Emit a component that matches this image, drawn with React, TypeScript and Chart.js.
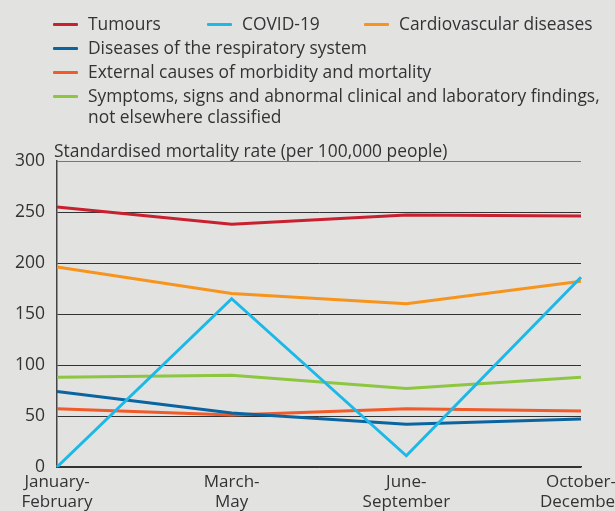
import React, { useEffect, useRef } from "react";
import { Chart, registerables } from "chart.js";

Chart.register(...registerables);

const categories: string[][] = [
  ["January-", "February"],
  ["March-", "May"],
  ["June-", "September"],
  ["October-", "December"],
];
const seriesNames = [
  "Tumours",
  "COVID-19",
  "Cardiovascular diseases",
  "Diseases of the respiratory system",
  "External causes of morbidity and mortality",
  "Symptoms, signs and abnormal clinical and laboratory findings,\nnot elsewhere classified",
];
const tumours = [255, 238, 247, 246];
const covid = [0, 165, 11, 186];
const cardio = [196, 170, 160, 182];
const respiratory = [74, 53, 42, 47];
const external = [57, 51, 57, 55];
const symptoms = [88, 90, 77, 88];
const colors = ["#c8202f", "#1cb9e8", "#f7941d", "#0a64a0", "#f15a29", "#8dc63f"];
const yTicks = [0, 50, 100, 150, 200, 250, 300];
const yTitle = "Standardised mortality rate (per 100,000 people)";

const FONT = "'Open Sans', Lato, sans-serif";
const TEXT = "#333333";

// legend layout: [left x of swatch, center y]
const legendPos: [number, number][] = [
  [53, 24],
  [207, 24],
  [364, 24],
  [53, 48],
  [53, 72],
  [53, 96],
];

export default function App() {
  const ref = useRef<HTMLCanvasElement | null>(null);

  useEffect(() => {
    document.body.style.margin = "0";
    if (!ref.current) return;
    const data = [tumours, covid, cardio, respiratory, external, symptoms];
    const chart = new Chart(ref.current, {
      type: "line",
      data: {
        labels: categories,
        datasets: data.map((d, i) => ({
          label: seriesNames[i],
          data: d,
          borderColor: colors[i],
          backgroundColor: colors[i],
          borderWidth: 3,
          pointRadius: 0,
          tension: 0,
          fill: false,
        })),
      },
      options: {
        animation: false,
        responsive: false,
        maintainAspectRatio: false,
        layout: { padding: { top: 161, left: 0, right: 34, bottom: 0 } },
        plugins: {
          legend: { display: false },
          tooltip: { enabled: false },
        },
        scales: {
          x: {
            offset: false,
            grid: { display: false, drawTicks: false },
            border: { display: true, color: "#333", width: 1.5 },
            ticks: {
              autoSkip: false,
              maxRotation: 0,
              minRotation: 0,
              padding: 5,
              color: TEXT,
              font: { family: FONT, size: 17, lineHeight: 1.2 },
            },
            afterFit: (s: any) => {
              s.height = 44;
              s.paddingLeft = 0;
              s.paddingRight = 0;
            },
          },
          y: {
            min: 0,
            max: 300,
            afterBuildTicks: (s: any) => {
              s.ticks = yTicks.map((v) => ({ value: v }));
            },
            grid: {
              color: (ctx: any) => (ctx.tick && ctx.tick.value === 300 ? "#777" : "#333"),
              lineWidth: 1,
              drawTicks: false,
            },
            border: { display: true, color: "#444", width: 1.5 },
            ticks: {
              padding: 12,
              color: TEXT,
              font: { family: FONT, size: 17.5 },
            },
            afterFit: (s: any) => {
              s.width = 57;
            },
          },
        },
      },
    });
    return () => chart.destroy();
  }, []);

  return (
    <div
      style={{
        position: "relative",
        width: 615,
        height: 511,
        background: "#e2e2e1",
        overflow: "hidden",
        fontFamily: FONT,
        color: TEXT,
      }}
    >
      <canvas ref={ref} width={615} height={511} style={{ position: "absolute", left: 0, top: 0 }} />
      {seriesNames.map((name, i) => {
        const [x, y] = legendPos[i];
        const lines = name.split("\n");
        return (
          <div key={i} style={{ position: "absolute", left: x, top: y - 11, display: "flex" }}>
            <div
              style={{
                width: 25,
                height: 3,
                background: colors[i],
                marginTop: 10,
                marginRight: 10,
                borderRadius: 1,
              }}
            />
            <div style={{ fontSize: 17.4, lineHeight: "21px", whiteSpace: "nowrap" }}>
              {lines.map((l, j) => (
                <div key={j}>{l}</div>
              ))}
            </div>
          </div>
        );
      })}
      <div
        style={{
          position: "absolute",
          left: 54,
          top: 140,
          fontSize: 17.4,
          lineHeight: "21px",
          whiteSpace: "nowrap",
        }}
      >
        {yTitle}
      </div>
    </div>
  );
}
